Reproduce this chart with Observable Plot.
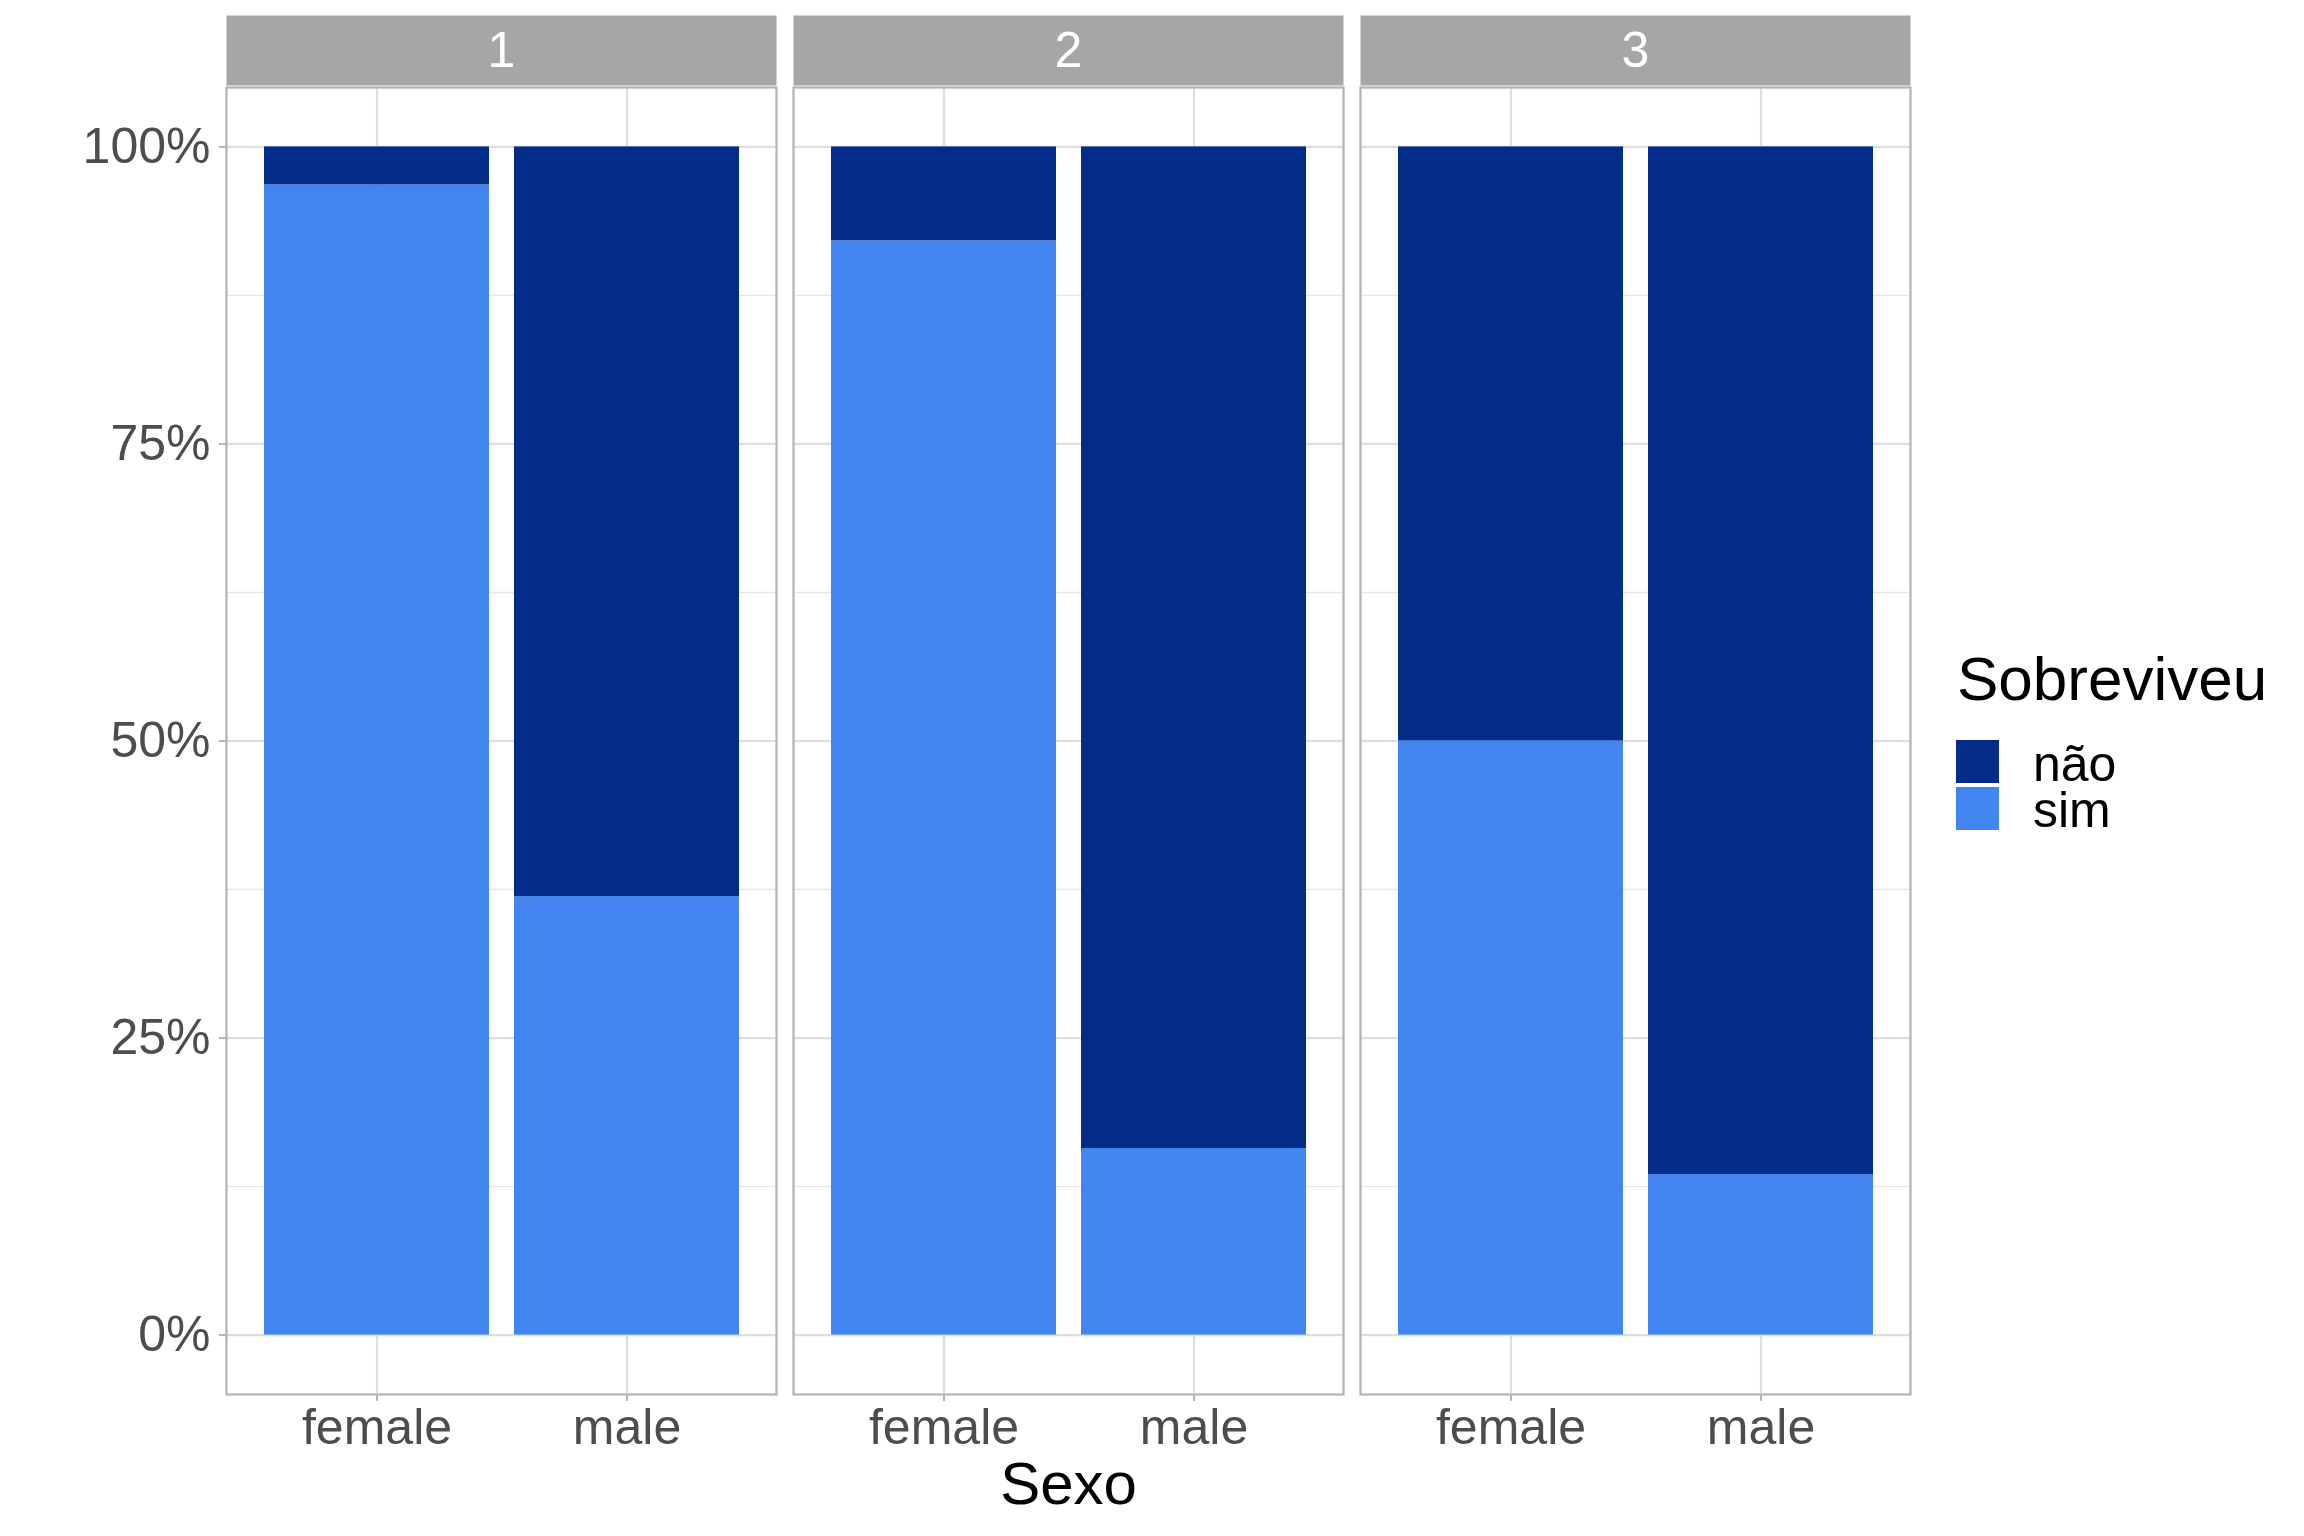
<!DOCTYPE html>
<html><head><meta charset="utf-8">
<script src="https://cdn.jsdelivr.net/npm/d3@7"></script>
<script src="https://cdn.jsdelivr.net/npm/@observablehq/plot@0.6"></script>
<style>
html,body{margin:0;padding:0;background:#fff;}
#wrap{position:relative;width:2304px;height:1536px;font-family:"Liberation Sans",Arial,sans-serif;}
#wrap svg{display:block;}
.lg{position:absolute;line-height:0.9;white-space:nowrap;color:#000;}
.key{position:absolute;}
</style></head><body><div id="wrap"></div>
<script>
// ---- data ----
const classes = ["1", "2", "3"];
const sexes = ["female", "male"];
const groups = ["não", "sim"];
const groupColors = ["#032B88", "#4285F0"];
// share per class × sex, order: 1-female, 1-male, 2-female, 2-male, 3-female, 3-male
const simShare = [0.968, 0.369, 0.921, 0.157, 0.500, 0.135];
const naoShare = [0.032, 0.631, 0.079, 0.843, 0.500, 0.865];
const yTicks = [0, 0.25, 0.5, 0.75, 1];
const yMinorTicks = [0.125, 0.375, 0.625, 0.875];
const yTickLabels = ["0%", "25%", "50%", "75%", "100%"];
const xTitle = "Sexo";
const legendTitle = "Sobreviveu";

// ---- table ----
const rows = [];
simShare.forEach((v, i) => {
  const classe = classes[Math.floor(i / 2)], sexo = sexes[i % 2];
  rows.push({classe, sexo, sobreviveu: "sim", valor: v});
  rows.push({classe, sexo, sobreviveu: "não", valor: naoShare[i]});
});

// ---- layout ----
const W = 2304, H = 1536;
const mTop = 87, mBottom = 142, mLeft = 225, mRight = 394;
const frameH = H - mTop - mBottom;
const stripTop = 15, stripH = 70;

const chart = Plot.plot({
  width: W, height: H,
  marginTop: mTop, marginBottom: mBottom, marginLeft: mLeft, marginRight: mRight,
  style: {fontFamily: "'Liberation Sans', Arial, sans-serif", background: "white", overflow: "visible"},
  fx: {domain: classes, paddingInner: 0.03, paddingOuter: 0},
  x: {domain: sexes, paddingInner: 0.1, paddingOuter: 0.15},
  y: {domain: [-0.05, 1.05]},
  color: {domain: groups, range: groupColors},
  marks: [
    Plot.gridY(yMinorTicks, {stroke: "#e6e6e6", strokeOpacity: 1, strokeWidth: 1.3}),
    Plot.gridY(yTicks, {stroke: "#dedede", strokeOpacity: 1, strokeWidth: 2.2}),
    Plot.gridX({stroke: "#dedede", strokeOpacity: 1, strokeWidth: 2.2}),
    Plot.barY(rows, Plot.stackY({fx: "classe", x: "sexo", y: "valor", fill: "sobreviveu"})),
    Plot.frame({stroke: "#b3b3b3", strokeWidth: 2.2}),
    Plot.frame({fill: "#a6a6a6", stroke: null, insetTop: stripTop - mTop, insetBottom: frameH + (mTop - stripTop - stripH)}),
    Plot.text(classes, {fx: d => d, text: d => d, frameAnchor: "top", dy: -(mTop - stripTop - stripH / 2), lineAnchor: "middle", fill: "white", fontSize: 50}),
    Plot.axisY({ticks: yTicks, tickFormat: d => yTickLabels[yTicks.indexOf(d)], tickSize: 7, tickPadding: 9, fontSize: 50, fill: "#4d4d4d", stroke: "#b3b3b3", strokeWidth: 2, label: null}),
    Plot.axisX({anchor: "bottom", tickSize: 7, tickPadding: 7, fontSize: 50, fill: "#4d4d4d", stroke: "#b3b3b3", strokeWidth: 2, label: null}),
    Plot.axisFx({anchor: "bottom", tickSize: 0, tickFormat: () => "", label: xTitle, labelAnchor: "center", labelOffset: 109, fontSize: 60, fill: "black"})
  ]
});
const wrap = document.getElementById("wrap");
wrap.appendChild(chart);

// ---- legend ----
const base = F => (0.9 - 1.117) / 2 * F + 0.905 * F;
const lg = document.createElement("div");
lg.className = "lg";
lg.style.left = "1957px"; lg.style.top = (700 - base(62)) + "px"; lg.style.fontSize = "62px";
lg.textContent = legendTitle;
wrap.appendChild(lg);
groups.forEach((g, i) => {
  const k = document.createElement("div");
  k.className = "key";
  k.style.left = "1956px"; k.style.top = (740 + i * 47) + "px";
  k.style.width = "43px"; k.style.height = "43px";
  k.style.background = groupColors[i];
  wrap.appendChild(k);
  const t = document.createElement("div");
  t.className = "lg";
  t.style.left = "2033px"; t.style.top = (782 + i * 46 - base(50)) + "px"; t.style.fontSize = "50px";
  t.textContent = g;
  wrap.appendChild(t);
});
</script></body></html>
